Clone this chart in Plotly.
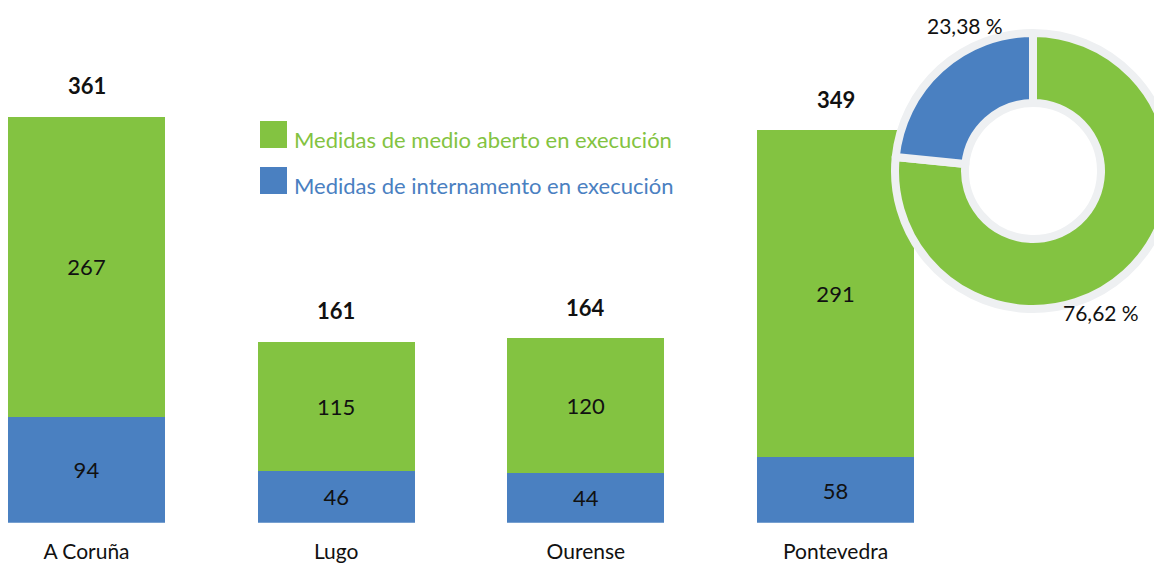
import plotly.graph_objects as go

# ---- data ----
categories = ["A Coruña", "Lugo", "Ourense", "Pontevedra"]
medio_aberto = [267, 115, 120, 291]
internamento = [94, 46, 44, 58]
totals = [a + b for a, b in zip(medio_aberto, internamento)]
series_names = ["Medidas de medio aberto en execución", "Medidas de internamento en execución"]
pie_values = [sum(medio_aberto), sum(internamento)]
pie_pct = [v / sum(pie_values) * 100 for v in pie_values]

GREEN = "#83C341"
BLUE = "#4A80C1"
RING = "#EEF0F2"
FONT = "Lato"
TXT = "#111111"
W, H = 1180, 564
OFF = 8  # page body offset


def px(x):
    return (x - OFF) / W


def py(y):
    return 1 - (y - OFF) / H


fig = go.Figure()

for vals, name, col in [(internamento, series_names[1], BLUE), (medio_aberto, series_names[0], GREEN)]:
    fig.add_trace(go.Bar(
        x=categories, y=vals, name=name,
        marker=dict(color=col, line=dict(width=0)), width=0.628,
        text=vals, texttemplate="%{text}", textposition="inside",
        insidetextanchor="middle", textangle=0, constraintext="none",
        textfont=dict(family=FONT, size=22, color=TXT),
        showlegend=False, hoverinfo="skip",
    ))

# donut
R = 138
cx, cy = 1033, 171
fig.add_trace(go.Pie(
    values=pie_values, labels=series_names,
    marker=dict(colors=[GREEN, BLUE], line=dict(color=RING, width=8)),
    hole=68 / R, sort=False, direction="clockwise", rotation=0,
    textinfo="none", showlegend=False, hoverinfo="skip",
    domain=dict(x=[px(cx - R), px(cx + R)], y=[py(cy + R), py(cy - R)]),
))

annotations = []
for c, t in zip(categories, totals):
    annotations.append(dict(
        x=c, y=t, xref="x", yref="y", text=f"<b>{t}</b>", showarrow=False,
        yanchor="middle", yshift=31, font=dict(family=FONT, size=22, color=TXT),
    ))

# donut labels
pct_text = [f"{p:.2f}".replace(".", ",") + " %" for p in pie_pct]
annotations.append(dict(x=px(965), y=py(25), xref="paper", yref="paper", text=pct_text[1],
                        xanchor="center", yanchor="middle", showarrow=False,
                        font=dict(family=FONT, size=21, color=TXT)))
annotations.append(dict(x=px(1101), y=py(312), xref="paper", yref="paper", text=pct_text[0],
                        xanchor="center", yanchor="middle", showarrow=False,
                        font=dict(family=FONT, size=21, color=TXT)))

# legend
shapes = [
    dict(type="rect", xref="paper", yref="paper", x0=px(260), x1=px(287), y0=py(148), y1=py(121),
         fillcolor=GREEN, line=dict(width=0)),
    dict(type="rect", xref="paper", yref="paper", x0=px(260), x1=px(287), y0=py(194), y1=py(167),
         fillcolor=BLUE, line=dict(width=0)),
]
annotations.append(dict(x=px(292), y=py(139), xref="paper", yref="paper", xanchor="left",
                        yanchor="middle", text=series_names[0], showarrow=False,
                        font=dict(family=FONT, size=22, color=GREEN)))
annotations.append(dict(x=px(292), y=py(185), xref="paper", yref="paper", xanchor="left",
                        yanchor="middle", text=series_names[1], showarrow=False,
                        font=dict(family=FONT, size=22, color=BLUE)))

y_bottom = 522.7 - OFF
scale = 1.1247
spacing = 249.67
x0c = 86.5 - OFF

fig.update_layout(
    width=W, height=H, margin=dict(l=0, r=0, t=0, b=0),
    paper_bgcolor="white", plot_bgcolor="white",
    barmode="stack", showlegend=False,
    font=dict(family=FONT, size=21, color=TXT),
    xaxis=dict(range=[-x0c / spacing, (W - x0c) / spacing], showgrid=False, zeroline=False,
               showline=False, ticks="", tickfont=dict(family=FONT, size=21, color=TXT),
               ticklabelstandoff=14, fixedrange=True),
    yaxis=dict(domain=[(H - y_bottom) / H, 1], range=[0, y_bottom / scale], visible=False,
               fixedrange=True),
    shapes=shapes, annotations=annotations,
)

fig.write_html("out.html")
